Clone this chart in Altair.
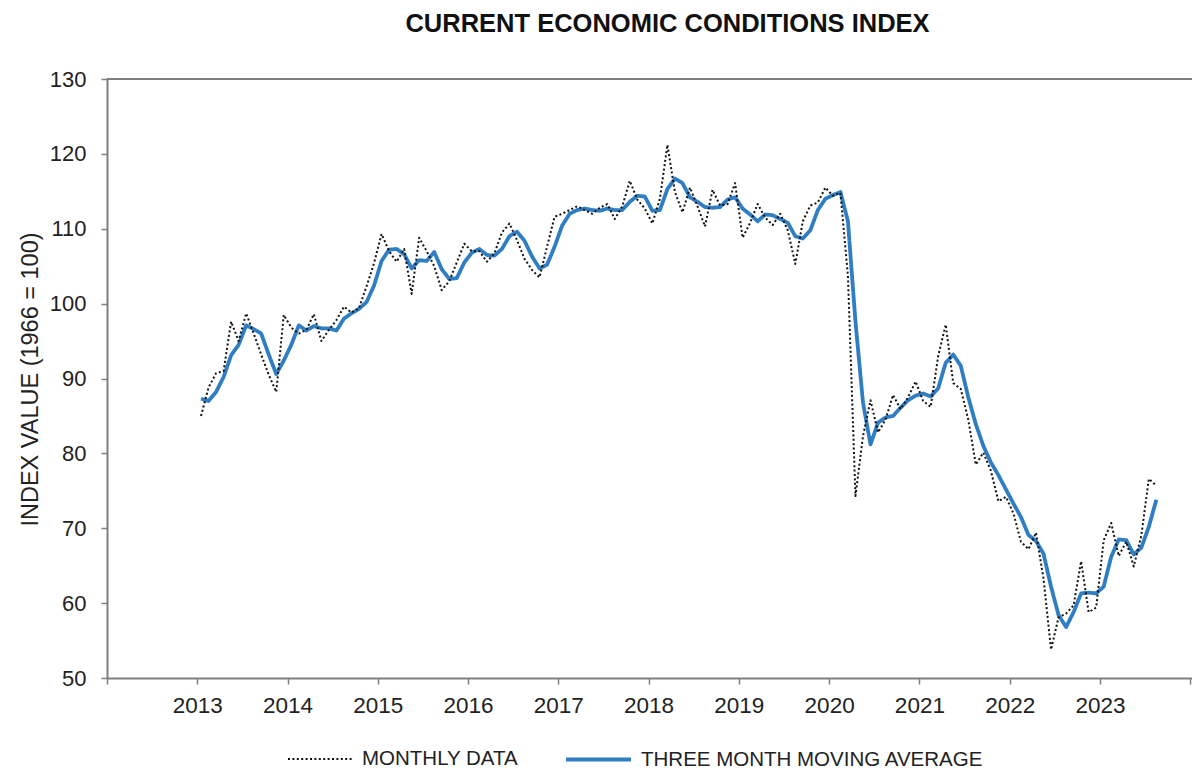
import altair as alt
import pandas as pd

# ---- data (Jan 2013 .. Aug 2023) ----
start_year = 2013
monthly_data = [
    # 2013
    85.0, 88.8, 90.7, 91.0, 97.6, 95.0, 98.7, 96.0, 93.2, 90.5, 88.2, 98.5,
    # 2014
    96.8, 96.0, 96.5, 98.6, 95.0, 96.5, 97.8, 99.6, 98.8, 99.4, 102.3, 105.4,
    # 2015
    109.3, 107.0, 105.6, 107.3, 101.3, 108.8, 107.0, 105.0, 101.8, 103.0, 105.5, 108.0,
    # 2016
    107.0, 107.0, 105.6, 106.7, 109.5, 110.7, 108.5, 106.0, 104.5, 103.5, 107.6, 111.6,
    # 2017
    112.0, 112.5, 113.0, 112.5, 112.0, 112.8, 113.3, 111.3, 113.0, 116.4, 113.9, 112.7,
    # 2018
    110.7, 114.0, 121.2, 114.9, 112.2, 115.5, 113.0, 110.3, 115.2, 113.1, 113.3, 116.1,
    # 2019
    108.8, 110.8, 113.3, 111.5, 110.5, 112.0, 109.8, 105.3, 111.0, 113.1, 113.5, 115.5,
    # 2020
    114.4, 114.8, 103.7, 74.3, 82.3, 87.1, 82.8, 84.5, 87.8, 85.9, 87.5, 89.6,
    # 2021
    87.0, 86.2, 93.0, 97.2, 89.4, 88.6, 84.5, 78.5, 80.1, 77.7, 73.6, 74.2,
    # 2022
    72.0, 68.2, 67.2, 69.4, 63.3, 53.8, 58.1, 58.6, 59.7, 65.6, 58.8, 59.4,
    # 2023
    68.4, 70.7, 66.3, 68.2, 64.9, 69.0, 76.6, 75.7,
]

moving_average = [
    # 2013
    87.3, 87.0, 88.2, 90.2, 93.1, 94.5, 97.1, 96.6, 96.0, 93.2, 90.6, 92.4,
    # 2014
    94.5, 97.1, 96.4, 97.0, 96.7, 96.7, 96.4, 98.0, 98.7, 99.3, 100.2, 102.4,
    # 2015
    105.7, 107.2, 107.3, 106.6, 104.7, 105.8, 105.7, 106.9, 104.6, 103.3, 103.4, 105.5,
    # 2016
    106.8, 107.3, 106.5, 106.4, 107.3, 109.0, 109.6, 108.4, 106.3, 104.7, 105.2, 107.6,
    # 2017
    110.4, 112.0, 112.5, 112.7, 112.5, 112.4, 112.7, 112.5, 112.5, 113.6, 114.4, 114.3,
    # 2018
    112.4, 112.5, 115.3, 116.7, 116.1, 114.2, 113.6, 112.9, 112.8, 112.9, 113.9, 114.2,
    # 2019
    112.7, 111.9, 111.0, 111.9, 111.8, 111.3, 110.8, 109.0, 108.7, 109.8, 112.5, 114.0,
    # 2020
    114.5, 114.9, 111.0, 97.6, 86.8, 81.2, 84.1, 84.8, 85.0, 86.1, 87.1, 87.7,
    # 2021
    88.0, 87.6, 88.7, 92.1, 93.2, 91.7, 87.5, 83.9, 81.0, 78.8, 77.1, 75.2,
    # 2022
    73.3, 71.5, 69.1, 68.3, 66.6, 62.2, 58.4, 56.8, 58.8, 61.3, 61.4, 61.3,
    # 2023
    62.2, 66.2, 68.5, 68.4, 66.5, 67.4, 70.2, 73.8,
]

series_names = ["MONTHLY DATA", "THREE MONTH MOVING AVERAGE"]
year_ticks = list(range(2012, 2025))
y_ticks = list(range(50, 131, 10))

# time index: mid-month as decimal year
rows = []
for i, (m, a) in enumerate(zip(monthly_data, moving_average)):
    t = start_year + (i + 0.5) / 12.0
    rows.append({"t": t, "value": m, "series": series_names[0]})
    rows.append({"t": t, "value": a, "series": series_names[1]})
df = pd.DataFrame(rows)

FONT = "Liberation Sans"
GREY = "#7f7f7f"

x_enc = alt.X(
    "t:Q",
    scale=alt.Scale(domain=[2012, 2024.02], nice=False, zero=False),
    axis=alt.Axis(
        values=year_ticks,
        labelExpr="datum.value >= 2013 && datum.value <= 2023 ? format(datum.value, 'd') : ''",
        title=None,
        grid=False,
        domainColor=GREY,
        domainWidth=2,
        tickColor=GREY,
        tickWidth=1.5,
        tickSize=6,
        labelPadding=10,
        labelFontSize=22.5,
        labelFont=FONT,
        labelColor="#222222",
        labelFlush=False,
    ),
)
y_enc = alt.Y(
    "value:Q",
    scale=alt.Scale(domain=[50, 130], nice=False, zero=False),
    axis=alt.Axis(
        values=y_ticks,
        title="INDEX VALUE (1966 = 100)",
        titleFont=FONT,
        titleFontSize=23.5,
        titleFontWeight="normal",
        titleColor="#222222",
        titleX=-77,
        titleY=300,
        titleAngle=270,
        titleAlign="center",
        titleBaseline="middle",
        grid=False,
        domainColor=GREY,
        domainWidth=2,
        tickColor=GREY,
        tickWidth=1.5,
        tickSize=6,
        labelPadding=15,
        labelFontSize=22,
        labelFont=FONT,
        labelColor="#222222",
    ),
)

color_enc = alt.Color(
    "series:N",
    scale=alt.Scale(domain=series_names, range=["#111111", "#2F7DC3"]),
    title=None,
    legend=alt.Legend(
        orient="none",
        legendX=180,
        legendY=646,
        direction="horizontal",
        symbolType="stroke",
        symbolSize=4225,
        labelFont=FONT,
        labelFontSize=20.5,
        labelColor="#222222",
        labelOffset=8,
        columnPadding=39,
        labelLimit=0,
    ),
)
dash_enc = alt.StrokeDash(
    "series:N",
    scale=alt.Scale(domain=series_names, range=[[2, 2.4], [1, 0]]),
    title=None,
)
width_enc = alt.StrokeWidth(
    "series:N",
    scale=alt.Scale(domain=series_names, range=[2, 3.8]),
    title=None,
)

base = alt.Chart(df).mark_line(strokeCap="butt", strokeJoin="round").encode(
    x=x_enc, y=y_enc, color=color_enc, strokeDash=dash_enc, strokeWidth=width_enc
)

ma_layer = base.transform_filter(alt.datum.series == series_names[1])
monthly_layer = base.transform_filter(alt.datum.series == series_names[0])

top_border = alt.Chart(df).mark_rule(color=GREY, strokeWidth=2).encode(
    y=alt.datum(130)
)

chart = (
    alt.layer(ma_layer, monthly_layer, top_border)
    .properties(
        width=1085,
        height=599,
        title=alt.TitleParams(
            "CURRENT ECONOMIC CONDITIONS INDEX",
            font=FONT,
            fontSize=25.5,
            fontWeight="bold",
            color="#111111",
            anchor="middle",
            frame="group",
            dx=18,
            offset=31,
        ),
        autosize=alt.AutoSizeParams(type="none"),
        padding={"left": 99, "top": 71, "right": 0, "bottom": 92},
    )
    .configure_view(strokeWidth=0)
    .configure(background="white")
)

chart.save("out.html", embed_options={"renderer": "svg", "actions": False})
